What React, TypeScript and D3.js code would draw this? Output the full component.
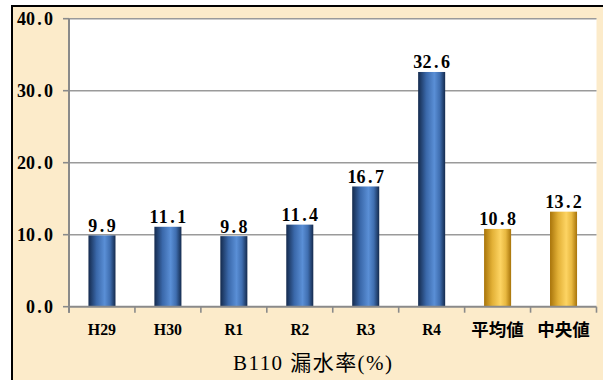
import React from "react";
import * as d3 from "d3";

const categories = ["H29", "H30", "R1", "R2", "R3", "R4", "平均値", "中央値"];
const values = [9.9, 11.1, 9.8, 11.4, 16.7, 32.6, 10.8, 13.2];
const kinds = ["year", "year", "year", "year", "year", "year", "stat", "stat"];
const yTicks = [0, 10, 20, 30, 40];
const axisTitle = "B110 漏水率(%)";

const W = 603;
const H = 380;
const M = { left: 69, right: 596.5, top: 18.7, bottom: 306.7 };

const numFont = "Liberation Serif, Noto Sans CJK JP, serif";
const cjkFont = "Noto Sans CJK JP, Liberation Serif, serif";

// monospace-like text: each character centred in a fixed-pitch cell
function MonoText(props: { x0: number; y: number; text: string; pitch: number; size: number }) {
  const { x0, y, text, pitch, size } = props;
  return (
    <text y={y} fontFamily={numFont} fontWeight="bold" fontSize={size} fill="#000" textAnchor="middle">
      {text.split("").map((ch, i) => (
        <tspan key={i} x={x0 + pitch * (i + 0.5)}>
          {ch}
        </tspan>
      ))}
    </text>
  );
}

export default function App() {
  const x = d3
    .scaleBand<string>()
    .domain(categories)
    .range([M.left, M.right])
    .paddingInner(0.59)
    .paddingOuter(0.295);
  const y = d3.scaleLinear().domain([0, 40]).range([M.bottom, M.top]);
  const fmt = d3.format(".1f");
  const step = x.step();
  const isCjk = (s: string) => /[^\x00-\x7f]/.test(s);

  return (
    <svg
      width={W}
      height={H}
      style={{ position: "fixed", left: 0, top: 0, display: "block" }}
    >
      <defs>
        <linearGradient id="gBlue" x1="0" x2="1" y1="0" y2="0">
          <stop offset="0" stopColor="#142a4d" />
          <stop offset="0.3" stopColor="#3a68aa" />
          <stop offset="0.6" stopColor="#5a8fd6" />
          <stop offset="0.8" stopColor="#3f6eb0" />
          <stop offset="1" stopColor="#142a4d" />
        </linearGradient>
        <linearGradient id="gGold" x1="0" x2="1" y1="0" y2="0">
          <stop offset="0" stopColor="#a8740a" />
          <stop offset="0.3" stopColor="#e2b036" />
          <stop offset="0.6" stopColor="#fdd463" />
          <stop offset="0.8" stopColor="#e8b840" />
          <stop offset="1" stopColor="#a8740a" />
        </linearGradient>
      </defs>
      <rect x={12} y={6} width={W} height={H} fill="#fcebca" stroke="#000" strokeWidth={2} />
      <rect x={M.left} y={M.top} width={M.right - M.left} height={M.bottom - M.top} fill="#fff" />
      {yTicks
        .filter((t) => t > 0)
        .map((t) => (
          <line key={"g" + t} x1={M.left} x2={M.right} y1={y(t)} y2={y(t)} stroke="#9a9a9a" strokeWidth={1.6} />
        ))}
      {categories.map((c, i) => (
        <rect
          key={"b" + c}
          x={x(c)}
          y={y(values[i])}
          width={x.bandwidth()}
          height={y(0) - y(values[i])}
          fill={kinds[i] === "stat" ? "url(#gGold)" : "url(#gBlue)"}
        />
      ))}
      <line x1={M.left} x2={M.left} y1={M.top} y2={M.bottom + 6} stroke="#8a8a8a" strokeWidth={2} />
      {yTicks.map((t) => (
        <g key={"yt" + t}>
          <line x1={M.left - 6} x2={M.left} y1={y(t)} y2={y(t)} stroke="#8a8a8a" strokeWidth={1.6} />
          <MonoText x0={53 - fmt(t).length * 9} y={y(t) + 6.5} text={fmt(t)} pitch={9} size={18} />
        </g>
      ))}
      <line x1={M.left} x2={M.right} y1={M.bottom} y2={M.bottom} stroke="#8a8a8a" strokeWidth={2} />
      {d3.range(categories.length + 1).map((k) => (
        <line
          key={"xt" + k}
          x1={M.left + k * step}
          x2={M.left + k * step}
          y1={M.bottom}
          y2={M.bottom + 6}
          stroke="#8a8a8a"
          strokeWidth={1.6}
        />
      ))}
      {categories.map((c) => {
        const cx = (x(c) as number) + x.bandwidth() / 2;
        return isCjk(c) ? (
          <text key={"xl" + c} x={cx} y={336} textAnchor="middle" fontFamily={cjkFont} fontWeight="bold" fontSize={17.5} fill="#000">
            {c}
          </text>
        ) : (
          <text
            key={"xl" + c}
            x={cx - (c.length * 9.4) / 2}
            y={334.5}
            fontFamily={numFont}
            fontWeight="bold"
            fontSize={17.5}
            textLength={c.length * 9.4}
            lengthAdjust="spacingAndGlyphs"
            fill="#000"
          >
            {c}
          </text>
        );
      })}
      {categories.map((c, i) => {
        const label = fmt(values[i]);
        const pitch = 9.2;
        const cx = (x(c) as number) + x.bandwidth() / 2;
        return (
          <MonoText
            key={"v" + c}
            x0={cx - (label.length * pitch) / 2}
            y={y(values[i]) - 3.5}
            text={label}
            pitch={pitch}
            size={18}
          />
        );
      })}
      <text
        x={233}
        y={369.5}
        fontFamily={numFont}
        fontSize={21}
        textLength={159}
        lengthAdjust="spacing"
        fill="#000"
      >
        {axisTitle}
      </text>
    </svg>
  );
}
